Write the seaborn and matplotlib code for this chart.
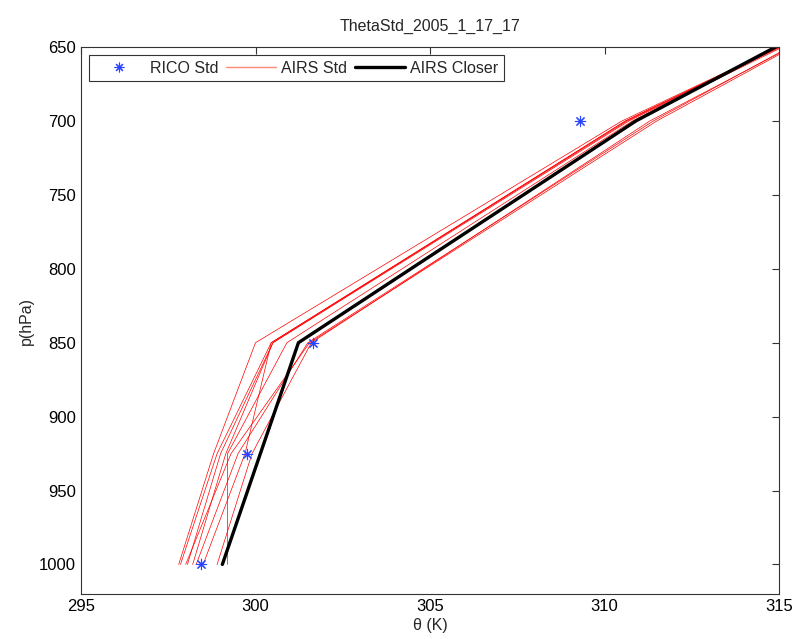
import numpy as np
import pandas as pd
import matplotlib
matplotlib.use("Agg")
import matplotlib.pyplot as plt
import seaborn as sns
from matplotlib.lines import Line2D

# pressure levels (hPa)
levels = [1000, 925, 850, 700, 650]

# RICO standard profile
rico_p = [1000, 925, 850, 700]
rico_theta = [298.45, 299.75, 301.65, 309.3]

# AIRS standard profiles (theta at each level)
airs_std = [
    [297.8, 298.8, 300.0, 310.5, 315.0],
    [297.85, 298.9, 300.45, 310.6, 315.0],
    [298.05, 299.0, 300.5, 310.7, 315.05],
    [298.2, 299.15, 300.5, 310.6, 315.0],
    [298.5, 299.7, 300.45, 310.65, 315.0],
    [299.2, 299.2, 300.9, 310.8, 315.1],
    [298.3, 299.5, 301.5, 311.4, 315.3],
    [298.9, 299.9, 301.6, 311.3, 315.35],
    [298.0, 299.3, 301.55, 311.5, 315.4],
]

# closest AIRS profile
closer_theta = [299.05, 300.14, 301.23, 310.9, 314.9]

sns.set_style("white")
plt.rcParams['font.family'] = ['Liberation Sans', 'DejaVu Sans']
plt.rcParams['font.size'] = 11.5

rows = []
for i, prof in enumerate(airs_std):
    for p, t in zip(levels, prof):
        rows.append({'member': i, 'p': p, 'theta': t})
airs_df = pd.DataFrame(rows)
closer_df = pd.DataFrame({'p': levels, 'theta': closer_theta})
rico_df = pd.DataFrame({'p': rico_p, 'theta': rico_theta})

fig = plt.figure(figsize=(8.06, 6.39), dpi=100)
ax = fig.add_axes([0.1005, 0.0704, 0.866, 0.856])

sns.lineplot(data=airs_df, x='theta', y='p', units='member', estimator=None,
             sort=False, color='red', linewidth=0.5, ax=ax, legend=False)
sns.lineplot(data=closer_df, x='theta', y='p', sort=False, color='black',
             linewidth=2.4, ax=ax, legend=False)
star = (8, 2, 0)
sns.scatterplot(data=rico_df, x='theta', y='p', marker=star, s=55,
                color='#2a45ff', linewidth=0.8, ax=ax, legend=False, zorder=5)

ax.set_xlim(295, 315)
ax.set_ylim(1020, 650)
ax.set_xticks([295, 300, 305, 310, 315])
ax.set_yticks([650, 700, 750, 800, 850, 900, 950, 1000])
ax.tick_params(direction='in', top=True, right=True, length=5, width=0.8,
               labelsize=12, colors='#333333', labelcolor='black')
for s in ax.spines.values():
    s.set_visible(True)
    s.set_color('#333333')
    s.set_linewidth(0.8)

ax.set_xlabel('θ (K)', fontsize=11.5, labelpad=3)
ax.set_ylabel('p(hPa)', fontsize=11.5)
ax.set_title('ThetaStd_2005_1_17_17', fontsize=11.5, pad=12)

handles = [
    Line2D([], [], linestyle='none', marker=star, color='#2a45ff', markersize=7, markeredgewidth=0.8),
    Line2D([], [], color='#ff8a78', linewidth=1.0),
    Line2D([], [], color='black', linewidth=2.4),
]
leg = ax.legend(handles, ['RICO Std', 'AIRS Std', 'AIRS Closer'], ncol=3,
                loc='upper left', fancybox=False, framealpha=1, edgecolor='#333333',
                handlelength=3.1, columnspacing=0.5, handletextpad=0.35,
                borderaxespad=0.5, borderpad=0.35, fontsize=11.5)
leg.get_frame().set_linewidth(0.8)

fig.savefig('out.png', dpi=100)
